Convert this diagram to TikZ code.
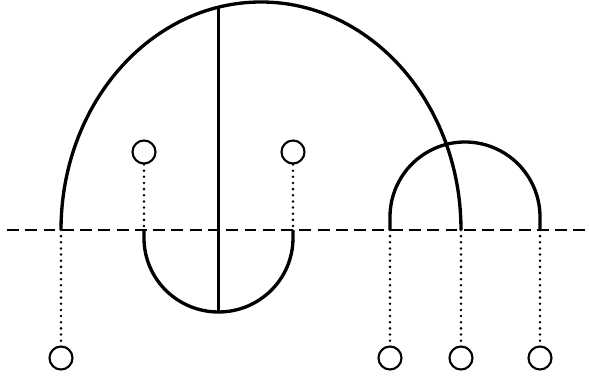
\documentclass[tikz,border=0pt]{standalone}
\begin{document}
\begin{tikzpicture}[
    x=0.02cm, y=0.02cm,
    port/.style={circle, draw, line width=1.2pt, minimum size=0.46cm, inner sep=0pt},
    wire/.style={line width=1.9pt},
    lead/.style={line width=1.6pt, line cap=round, dash pattern=on 0pt off 3.5pt},
    axis/.style={line width=1.5pt, dash pattern=on 6.8pt off 3.6pt},
]
\useasboundingbox (0,0) rectangle (589,381);
\coordinate (w0) at (7,151);
\coordinate (w1) at (585,151);
\coordinate (a0) at (61,151);
\coordinate (u0) at (144,151);
\coordinate (u1) at (293,151);
\coordinate (h0) at (390,151);
\coordinate (a1) at (461,151);
\coordinate (h1) at (540,151);
\coordinate (top) at (218.5,375);
\coordinate (bot) at (218.5,69);
\node[port] (t1) at (144,229) {};
\node[port] (t2) at (293,229) {};
\node[port] (b1) at (61,23) {};
\node[port] (b2) at (390,23) {};
\node[port] (b3) at (461,23) {};
\node[port] (b4) at (540,23) {};
\draw[axis] (w0) -- (w1);
\draw[wire] (a0) arc[start angle=180, end angle=0, x radius=200, y radius=228];
\draw[wire] (u0) -- ++(0,-8) arc[start angle=180, end angle=360, x radius=74.5, y radius=74] -- (u1);
\draw[wire] (h0) -- ++(0,13) arc[start angle=180, end angle=0, radius=75] -- (h1);
\draw[wire] (top) -- (bot);
\draw[lead] (t1) -- (u0);
\draw[lead] (t2) -- (u1);
\draw[lead] (a0) -- (b1);
\draw[lead] (h0) -- (b2);
\draw[lead] (a1) -- (b3);
\draw[lead] (h1) -- (b4);
\end{tikzpicture}
\end{document}
